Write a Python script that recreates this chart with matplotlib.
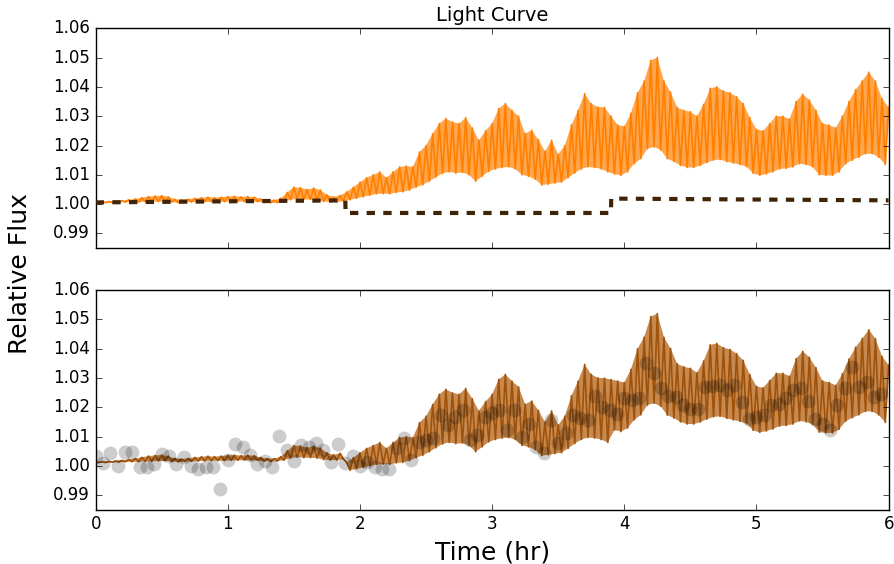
import numpy as np
import matplotlib
matplotlib.use('Agg')
import matplotlib.pyplot as plt

plt.style.use('classic')

# light curve envelope (hi every 0.05 hr, lo half a step later)
t_hi = np.round(np.arange(0, 6.0001, 0.05), 3)
flux_hi = [1.0008, 1.0008, 1.0009, 1.0010, 1.0012, 1.0015, 1.0018, 1.0022, 1.0026, 1.0028,
           1.0029, 1.0025, 1.0017, 1.0015, 1.0017, 1.0020, 1.0022, 1.0024, 1.0022, 1.0024,
           1.0026, 1.0027, 1.0025, 1.0026, 1.0024, 1.0018, 1.0014, 1.0014, 1.0020, 1.0040,
           1.0058, 1.0056, 1.0050, 1.0055, 1.0048, 1.0032, 1.0025, 1.0030, 1.0042, 1.0058,
           1.0075, 1.0090, 1.0100, 1.0110, 1.0090, 1.0110, 1.0127, 1.0130, 1.0127, 1.0178,
           1.0200, 1.0240, 1.0275, 1.0292, 1.0280, 1.0275, 1.0295, 1.0260, 1.0218, 1.0250,
           1.0275, 1.0326, 1.0343, 1.0320, 1.0300, 1.0241, 1.0252, 1.0220, 1.0180, 1.0218,
           1.0170, 1.0200, 1.0270, 1.0320, 1.0377, 1.0343, 1.0331, 1.0330, 1.0300, 1.0270,
           1.0265, 1.0310, 1.0380, 1.0420, 1.0490, 1.0500, 1.0420, 1.0382, 1.0330, 1.0320,
           1.0315, 1.0300, 1.0340, 1.0395, 1.0400, 1.0386, 1.0380, 1.0366, 1.0343, 1.0295,
           1.0255, 1.0250, 1.0275, 1.0300, 1.0300, 1.0290, 1.0350, 1.0375, 1.0355, 1.0320,
           1.0275, 1.0270, 1.0260, 1.0300, 1.0350, 1.0390, 1.0420, 1.0450, 1.0420, 1.0360,
           1.0330]
t_lo = np.round(np.arange(0.025, 6.0, 0.05), 3)
flux_lo = [1.0005, 1.0005, 1.0006, 1.0006, 1.0007, 1.0007, 1.0007, 1.0008, 1.0008, 1.0009,
           1.0009, 1.0007, 1.0005, 1.0006, 1.0007, 1.0007, 1.0008, 1.0008, 1.0008, 1.0008,
           1.0009, 1.0009, 1.0009, 1.0009, 1.0008, 1.0005, 1.0004, 1.0005, 1.0008, 1.0015,
           1.0018, 1.0016, 1.0016, 1.0014, 1.0009, 1.0007, 1.0007, 1.0010, 1.0015, 1.0020,
           1.0025, 1.0030, 1.0035, 1.0036, 1.0035, 1.0040, 1.0042, 1.0048, 1.0058, 1.0066,
           1.0078, 1.0092, 1.0105, 1.0110, 1.0106, 1.0108, 1.0100, 1.0078, 1.0095, 1.0112,
           1.0120, 1.0125, 1.0127, 1.0120, 1.0100, 1.0095, 1.0085, 1.0065, 1.0068, 1.0072,
           1.0075, 1.0090, 1.0106, 1.0120, 1.0127, 1.0125, 1.0120, 1.0110, 1.0103, 1.0098,
           1.0110, 1.0138, 1.0155, 1.0189, 1.0195, 1.0185, 1.0155, 1.0145, 1.0132, 1.0125,
           1.0125, 1.0132, 1.0142, 1.0150, 1.0152, 1.0145, 1.0140, 1.0135, 1.0128, 1.0105,
           1.0098, 1.0103, 1.0110, 1.0120, 1.0122, 1.0127, 1.0138, 1.0135, 1.0127, 1.0100,
           1.0098, 1.0098, 1.0110, 1.0138, 1.0150, 1.0160, 1.0172, 1.0172, 1.0160, 1.0135]

# systematics model (dashed line), piecewise
t_sys = [0.0, 1.889, 1.891, 3.899, 3.901, 6.0]
flux_sys = [1.0006, 1.0013, 0.9970, 0.9970, 1.0019, 1.0013]

# binned observations, one every 200 s
dt_obs = 200 / 3600.
flux_obs = [1.0033, 1.0011, 1.0045, 1.0000, 1.0048, 1.0048, 0.9995, 0.9997, 1.0008, 1.0040,
            1.0033, 1.0006, 1.0029, 1.0000, 0.9990, 0.9997, 0.9995, 0.9922, 1.0020, 1.0074,
            1.0063, 1.0037, 1.0008, 1.0016, 0.9995, 1.0102, 1.0054, 1.0017, 1.0071, 1.0065,
            1.0079, 1.0054, 1.0014, 1.0073, 1.0009, 1.0035, 1.0000, 1.0012, 0.9995, 0.9991,
            0.9988, 1.0060, 1.0094, 1.0020, 1.0082, 1.0088, 1.0094, 1.0173, 1.0139, 1.0167,
            1.0190, 1.0088, 1.0105, 1.0167, 1.0179, 1.0190, 1.0122, 1.0190, 1.0100, 1.0143,
            1.0065, 1.0043, 1.0156, 1.0077, 1.0111, 1.0173, 1.0162, 1.0156, 1.0238, 1.0202,
            1.0190, 1.0177, 1.0230, 1.0226, 1.0230, 1.0350, 1.0318, 1.0264, 1.0238, 1.0235,
            1.0207, 1.0193, 1.0193, 1.0270, 1.0272, 1.0275, 1.0259, 1.0277, 1.0219, 1.0159,
            1.0168, 1.0174, 1.0207, 1.0210, 1.0233, 1.0259, 1.0264, 1.0222, 1.0159, 1.0143,
            1.0122, 1.0207, 1.0264, 1.0338, 1.0270, 1.0287, 1.0235, 1.0245]
t_obs = np.arange(len(flux_obs)) * dt_obs

# interleave highs and lows into one curve
t_curve = np.empty(len(t_hi) + len(t_lo))
f_curve = np.empty(len(t_hi) + len(t_lo))
t_curve[0::2], t_curve[1::2] = t_hi, t_lo
f_curve[0::2], f_curve[1::2] = flux_hi, flux_lo

# model with systematics applied for the lower panel
sys_hi = np.interp(t_hi, t_sys, flux_sys)
sys_lo = np.interp(t_lo, t_sys, flux_sys)
f_model = f_curve * np.interp(t_curve, t_sys, flux_sys)


def band(ax, hi, lo, fill_color, line_color, f):
    # envelope polygon plus the fast oscillation on top
    xs = np.concatenate([t_hi, t_lo[::-1]])
    ys = np.concatenate([hi, lo[::-1]])
    ax.fill(xs, ys, color=fill_color, lw=0, zorder=1)
    ax.plot(t_curve, f, color=line_color, lw=1.2, zorder=2)


fig = plt.figure(figsize=(8.94, 5.64), dpi=100, facecolor='white')
ax1 = fig.add_axes([0.107, 0.560, 0.887, 0.390])
ax2 = fig.add_axes([0.107, 0.096, 0.887, 0.390])

band(ax1, np.array(flux_hi), np.array(flux_lo), '#ffa64d', '#ff8000', f_curve)
ax1.plot(t_sys, flux_sys, color='#3f2408', lw=3, dashes=(6, 6), zorder=3)
ax1.set_title('Light Curve', fontsize=14)

band(ax2, np.array(flux_hi) * sys_hi, np.array(flux_lo) * sys_lo, '#c68a50', '#a0520a', f_model)
ax2.plot(t_obs, flux_obs, 'o', color='k', alpha=0.2, ms=10, mec='none', zorder=3)
ax2.set_xlabel('Time (hr)', fontsize=18)

for ax in (ax1, ax2):
    ax.set_xlim(0, 6)
    ax.set_ylim(0.985, 1.06)
    ax.set_yticks([0.99, 1.00, 1.01, 1.02, 1.03, 1.04, 1.05, 1.06])
    ax.set_yticklabels(['0.99', '1.00', '1.01', '1.02', '1.03', '1.04', '1.05', '1.06'])
    ax.tick_params(labelsize=12)
ax1.set_xticklabels([])

fig.text(0.022, 0.515, 'Relative Flux', rotation=90, va='center', ha='center', fontsize=18)

fig.savefig('out.png', dpi=100, facecolor='white')
